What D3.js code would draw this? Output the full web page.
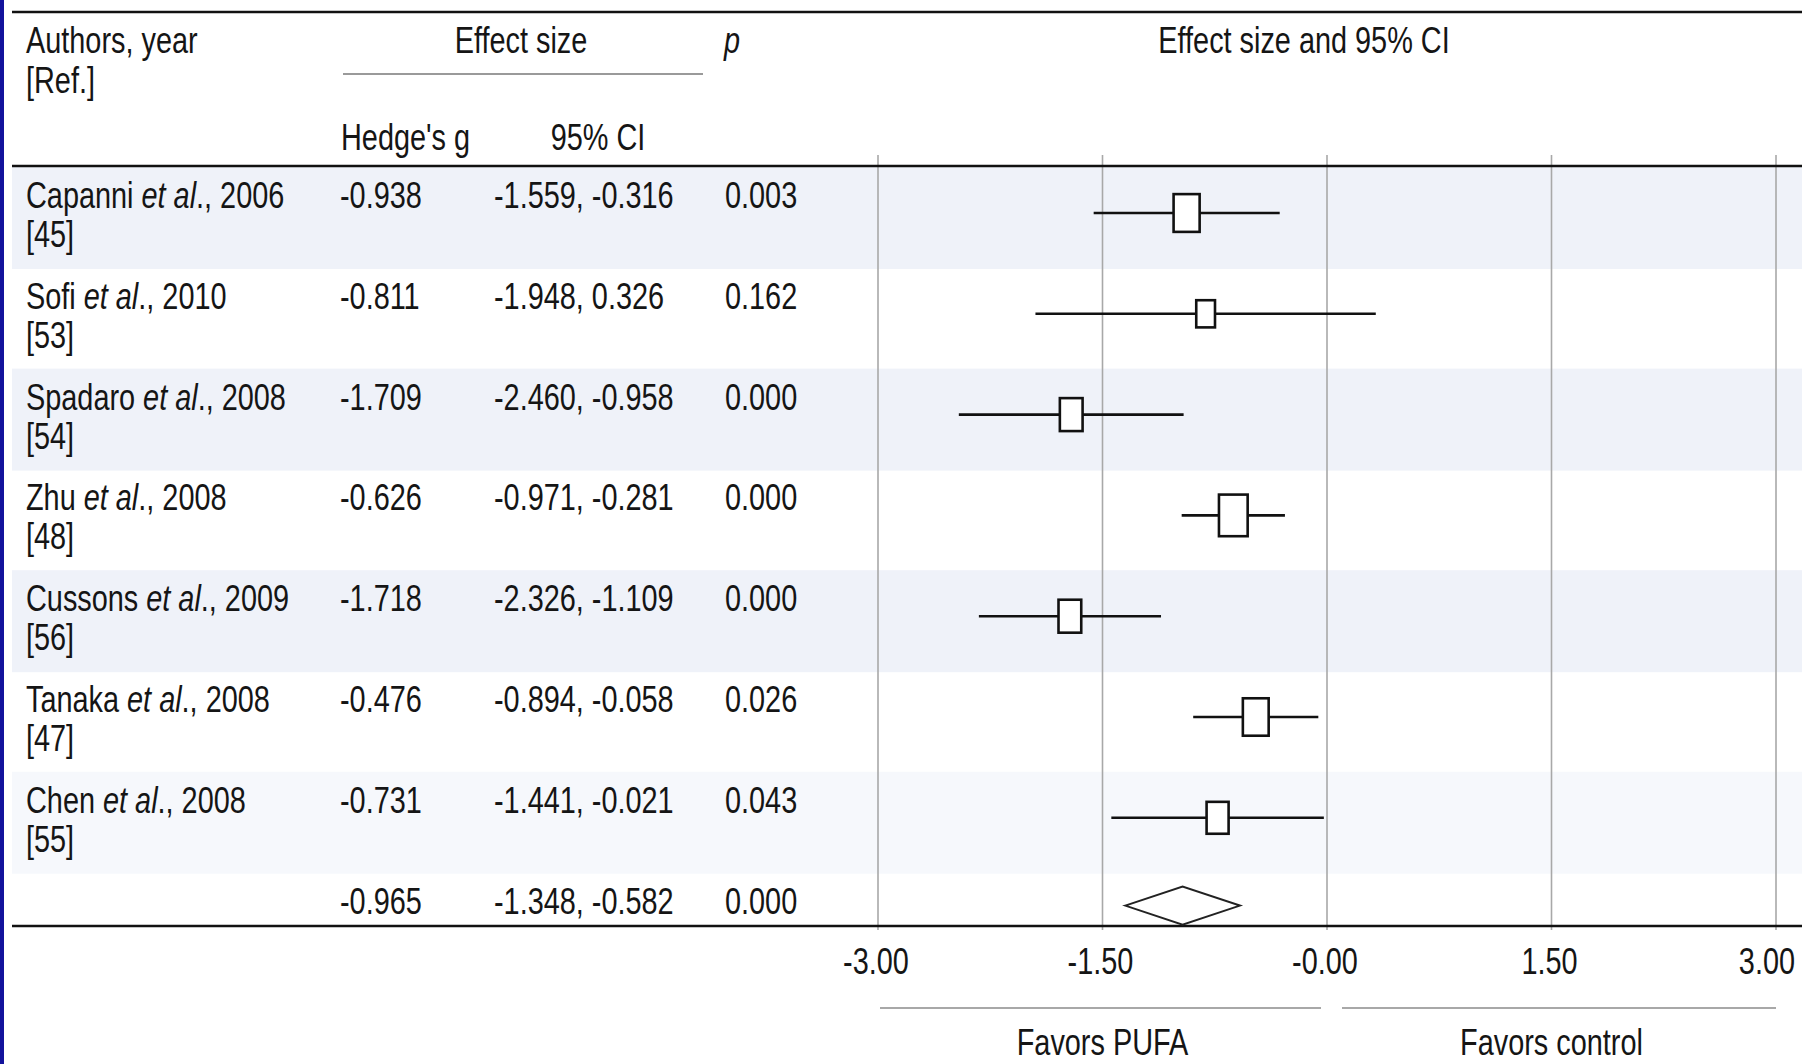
<!DOCTYPE html>
<html>
<head>
<meta charset="utf-8">
<script src="https://cdn.jsdelivr.net/npm/d3@7"></script>
<style>
  html, body { margin: 0; padding: 0; background: #fff; }
  svg text { font-family: "Liberation Sans", Arial, sans-serif; fill: #151515; }
</style>
</head>
<body>
<svg id="forest"></svg>
<script>
// Study rows
const authors = ["Capanni", "Sofi", "Spadaro", "Zhu", "Cussons", "Tanaka", "Chen"];
const years = [2006, 2010, 2008, 2008, 2009, 2008, 2008];
const refs = ["[45]", "[53]", "[54]", "[48]", "[56]", "[47]", "[55]"];
const hedgesG = [-0.938, -0.811, -1.709, -0.626, -1.718, -0.476, -0.731];
const ciLower = [-1.559, -1.948, -2.460, -0.971, -2.326, -0.894, -1.441];
const ciUpper = [-0.316, 0.326, -0.958, -0.281, -1.109, -0.058, -0.021];
const pValues = ["0.003", "0.162", "0.000", "0.000", "0.000", "0.026", "0.043"];
// relative weight (%) -> box size
const weights = [16.8, 8.7, 12.8, 20.4, 12.8, 16.5, 12.0];

// Pooled estimate
const pooledG = -0.965;
const pooledLower = -1.348;
const pooledUpper = -0.582;
const pooledP = "0.000";

// Axis
const tickValues = [-3, -1.5, 0, 1.5, 3];
const tickLabels = ["-3.00", "-1.50", "-0.00", "1.50", "3.00"];

const width = 1802, height = 1064;
const fontSize = 37;
const narrow = 0.78; // squeeze to look like a narrow face

const svg = d3.select("#forest")
  .attr("width", width)
  .attr("height", height);

// Scales
const xScale = d3.scaleLinear().domain([-3, 3]).range([878, 1776]);
const rowScale = d3.scaleLinear().domain([0, 7]).range([208, 208 + 7 * 100.8]);
const boxScale = d3.scaleSqrt().domain([0, d3.max(weights)]).range([0, 28.7]);

const topLineY = 12, headerLineY = 166, axisY = 926;

const rows = authors.map((a, i) => ({
  author: a, year: years[i], ref: refs[i], g: hedgesG[i],
  lo: ciLower[i], hi: ciUpper[i], p: pValues[i], w: weights[i], i
}));

// faint alternating row shading
svg.selectAll(".band")
  .data(rows.filter(d => d.i % 2 === 0))
  .enter()
  .append("rect")
  .attr("class", "band")
  .attr("x", 12)
  .attr("y", d => rowScale(d.i) - 41)
  .attr("width", width - 12)
  .attr("height", 102)
  .attr("fill", "#eff2f9")
  .attr("opacity", d => d.i === 6 ? 0.55 : 1);

// left blue border
svg.append("rect")
  .attr("x", 0).attr("y", 0)
  .attr("width", 4).attr("height", height)
  .attr("fill", "#12129c");

// vertical grid lines
svg.selectAll(".grid")
  .data(tickValues)
  .enter()
  .append("line")
  .attr("class", "grid")
  .attr("x1", d => xScale(d)).attr("x2", d => xScale(d))
  .attr("y1", headerLineY - 11).attr("y2", axisY + 4)
  .attr("stroke", "#a8a8a8")
  .attr("stroke-width", 1.6);

// horizontal rules
[topLineY, headerLineY, axisY].forEach(y => {
  svg.append("line")
    .attr("x1", 12).attr("x2", width)
    .attr("y1", y).attr("y2", y)
    .attr("stroke", "#111")
    .attr("stroke-width", 2.5);
});

// "Effect size" underline
svg.append("line")
  .attr("x1", 343).attr("x2", 703)
  .attr("y1", 74).attr("y2", 74)
  .attr("stroke", "#9a9a9a")
  .attr("stroke-width", 2);

// text helper: position by transform so the glyphs can be narrowed
function place(sel, x, y) {
  return sel.attr("transform", (d, i) => {
    const xx = typeof x === "function" ? x(d, i) : x;
    const yy = typeof y === "function" ? y(d, i) : y;
    return `translate(${xx},${yy}) scale(${narrow},1)`;
  }).attr("font-size", fontSize);
}
function addText(x, y, txt, anchor = "start", italic = false) {
  return place(svg.append("text"), x, y)
    .attr("text-anchor", anchor)
    .attr("font-style", italic ? "italic" : "normal")
    .text(txt);
}
addText(26, 53, "Authors, year");
addText(26, 93, "[Ref.]");
addText(521, 53, "Effect size", "middle");
addText(724, 53, "p", "start", true);
addText(1304, 53, "Effect size and 95% CI", "middle");
addText(341, 150, "Hedge's g");
addText(598, 150, "95% CI", "middle");

// Study labels
const labels = svg.selectAll(".study")
  .data(rows)
  .enter()
  .append("g")
  .attr("class", "study");

const authorText = place(labels.append("text"), 26, d => rowScale(d.i));
authorText.append("tspan").text(d => d.author + " ");
authorText.append("tspan").attr("font-style", "italic").text("et al");
authorText.append("tspan").text(d => "., " + d.year);

place(labels.append("text"), 26, d => rowScale(d.i) + 39)
  .text(d => d.ref);

// value columns (studies + pooled)
const tableRows = rows.map(d => ({ i: d.i, g: d.g, lo: d.lo, hi: d.hi, p: d.p }))
  .concat([{ i: 7, g: pooledG, lo: pooledLower, hi: pooledUpper, p: pooledP }]);
const f3 = v => v.toFixed(3);

const cols = svg.selectAll(".vals")
  .data(tableRows)
  .enter()
  .append("g")
  .attr("class", "vals");
place(cols.append("text"), 340, d => rowScale(d.i))
  .text(d => f3(d.g));
place(cols.append("text"), 494, d => rowScale(d.i))
  .text(d => f3(d.lo) + ", " + f3(d.hi));
place(cols.append("text"), 725, d => rowScale(d.i))
  .text(d => d.p);

// CI lines and boxes
const markY = d => rowScale(d.i) + 5;
const marks = svg.selectAll(".mark")
  .data(rows)
  .enter()
  .append("g")
  .attr("class", "mark");
marks.append("line")
  .attr("x1", d => xScale(d.lo)).attr("x2", d => xScale(d.hi))
  .attr("y1", markY).attr("y2", markY)
  .attr("stroke", "#111")
  .attr("stroke-width", 2.6);
marks.append("rect")
  .attr("x", d => xScale(d.g) - boxScale(d.w) / 2)
  .attr("y", d => markY(d) - boxScale(d.w) * 1.45 / 2)
  .attr("width", d => boxScale(d.w))
  .attr("height", d => boxScale(d.w) * 1.45)
  .attr("fill", "#fff")
  .attr("stroke", "#111")
  .attr("stroke-width", 2.6);

// pooled diamond
const dy = rowScale(7) - 8;
svg.append("path")
  .attr("d", `M${xScale(pooledLower)},${dy} L${xScale(pooledG)},${dy - 19} L${xScale(pooledUpper)},${dy} L${xScale(pooledG)},${dy + 19} Z`)
  .attr("fill", "#fff")
  .attr("stroke", "#222")
  .attr("stroke-width", 2);

// tick labels
const last = tickValues.length - 1;
place(svg.selectAll(".tick-label")
  .data(tickValues)
  .enter()
  .append("text")
  .attr("class", "tick-label"),
  (d, i) => i === last ? 1795 : xScale(d) - 2, 974)
  .attr("text-anchor", (d, i) => i === last ? "end" : "middle")
  .text((d, i) => tickLabels[i]);

// favours lines and labels
svg.append("line")
  .attr("x1", xScale(-3) + 2).attr("x2", xScale(0) - 6)
  .attr("y1", 1008).attr("y2", 1008)
  .attr("stroke", "#a8a8a8").attr("stroke-width", 2);
svg.append("line")
  .attr("x1", xScale(0) + 15).attr("x2", xScale(3))
  .attr("y1", 1008).attr("y2", 1008)
  .attr("stroke", "#a8a8a8").attr("stroke-width", 2);
addText(xScale(-1.5), 1055, "Favors PUFA", "middle");
addText(xScale(1.5), 1055, "Favors control", "middle");
</script>
</body>
</html>
